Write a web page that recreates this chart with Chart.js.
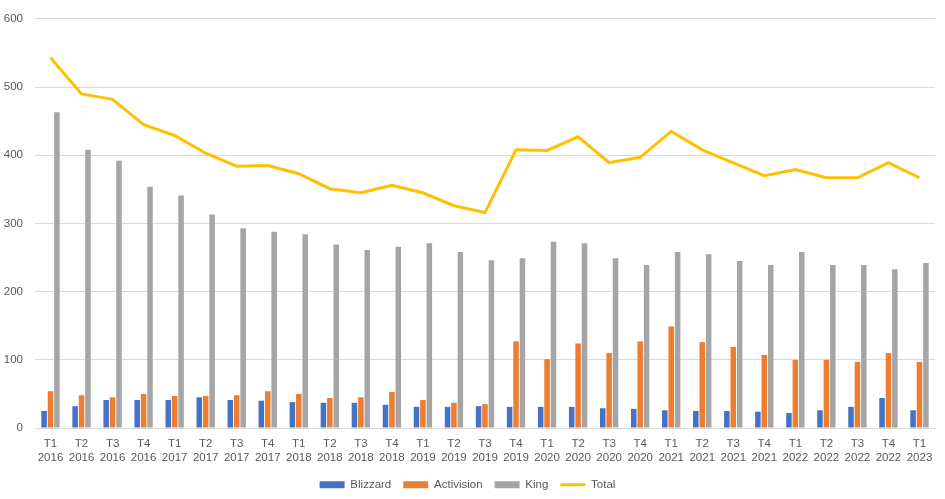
<!DOCTYPE html>
<html>
<head>
<meta charset="utf-8">
<script src="https://cdn.jsdelivr.net/npm/chart.js@4"></script>
<style>
  html, body { margin: 0; padding: 0; background: #fff; }
  #wrap { width: 945px; height: 499px; }
</style>
</head>
<body>
<div id="wrap"><canvas id="chart"></canvas></div>
<script>
const quarters = [
  ['T1', '2016'], ['T2', '2016'], ['T3', '2016'], ['T4', '2016'],
  ['T1', '2017'], ['T2', '2017'], ['T3', '2017'], ['T4', '2017'],
  ['T1', '2018'], ['T2', '2018'], ['T3', '2018'], ['T4', '2018'],
  ['T1', '2019'], ['T2', '2019'], ['T3', '2019'], ['T4', '2019'],
  ['T1', '2020'], ['T2', '2020'], ['T3', '2020'], ['T4', '2020'],
  ['T1', '2021'], ['T2', '2021'], ['T3', '2021'], ['T4', '2021'],
  ['T1', '2022'], ['T2', '2022'], ['T3', '2022'], ['T4', '2022'],
  ['T1', '2023']
];

const blizzard = [25, 32, 41, 41, 41, 45, 41, 40, 38, 37, 37, 34, 31, 31, 32, 31, 31, 31, 29, 28, 26, 25, 25, 24, 22, 26, 31, 44, 26];
const activision = [54, 48, 45, 50, 47, 47, 48, 54, 50, 44, 45, 53, 41, 37, 35, 127, 101, 124, 110, 127, 149, 126, 119, 107, 100, 100, 97, 110, 97];
const king = [463, 408, 392, 354, 341, 313, 293, 288, 284, 269, 261, 266, 271, 258, 246, 249, 273, 271, 249, 239, 258, 255, 245, 239, 258, 239, 239, 233, 242];
const total = [543, 490, 482, 445, 429, 403, 384, 385, 373, 351, 345, 356, 345, 326, 316, 408, 407, 427, 389, 397, 435, 408, 389, 370, 379, 367, 367, 389, 367];

const yTicks = [0, 100, 200, 300, 400, 500, 600];

const textColor = '#595959';
const gridColor = '#d9d9d9';
Chart.defaults.font.family = '"Liberation Sans", Arial, sans-serif';
Chart.defaults.font.size = 11;
Chart.defaults.color = textColor;

// keep the legend strip at a fixed height so the plot bottom lands where it should
const legendHeight = {
  id: 'legendHeight',
  afterInit(chart) {
    const legend = chart.legend;
    if (!legend) return;
    const fit = legend.fit;
    legend.fit = function() {
      fit.call(this);
      this.height = 32;
    };
  }
};

const ctx = document.getElementById('chart').getContext('2d');
new Chart(ctx, {
  type: 'bar',
  data: {
    labels: quarters,
    datasets: [
      { label: 'Blizzard', data: blizzard, backgroundColor: '#4472c4', order: 1 },
      { label: 'Activision', data: activision, backgroundColor: '#ed7d31', order: 1 },
      { label: 'King', data: king, backgroundColor: '#a5a5a5', order: 1 },
      {
        label: 'Total', data: total, type: 'line', order: 0,
        borderColor: '#ffc000', backgroundColor: '#ffc000',
        borderWidth: 3, pointRadius: 0, tension: 0
      }
    ]
  },
  plugins: [legendHeight],
  options: {
    responsive: true,
    maintainAspectRatio: false,
    animation: false,
    categoryPercentage: 0.62,
    barPercentage: 0.86,
    layout: { padding: { top: 12, right: 10, left: 0, bottom: 0 } },
    scales: {
      x: {
        afterFit: axis => { axis.height = 39; },
        grid: { display: false, drawTicks: false },
        border: { display: true, color: gridColor },
        ticks: { padding: 9, maxRotation: 0, autoSkip: false, color: textColor, font: { size: 11.5 } }
      },
      y: {
        min: 0,
        max: 600,
        afterBuildTicks: axis => { axis.ticks = yTicks.map(v => ({ value: v })); },
        afterFit: axis => { axis.width = 35; },
        grid: { color: gridColor, drawTicks: false },
        border: { display: false },
        ticks: { padding: 12, color: textColor, font: { size: 11.5 } }
      }
    },
    plugins: {
      legend: {
        position: 'bottom',
        labels: {
          usePointStyle: true,
          pointStyleWidth: 25,
          boxHeight: 7,
          padding: 12,
          color: textColor,
          font: { size: 11.5 },
          sort: (a, b) => a.datasetIndex - b.datasetIndex,
          generateLabels: chart => {
            const items = Chart.defaults.plugins.legend.labels.generateLabels(chart);
            items.forEach(item => {
              const ds = chart.data.datasets[item.datasetIndex];
              if (ds.type === 'line') {
                item.pointStyle = 'line';
                item.lineWidth = 3;
                item.strokeStyle = ds.borderColor;
              } else {
                item.pointStyle = 'rect';
                item.lineWidth = 0;
              }
            });
            return items;
          }
        }
      },
      tooltip: { enabled: false }
    }
  }
});
</script>
</body>
</html>
